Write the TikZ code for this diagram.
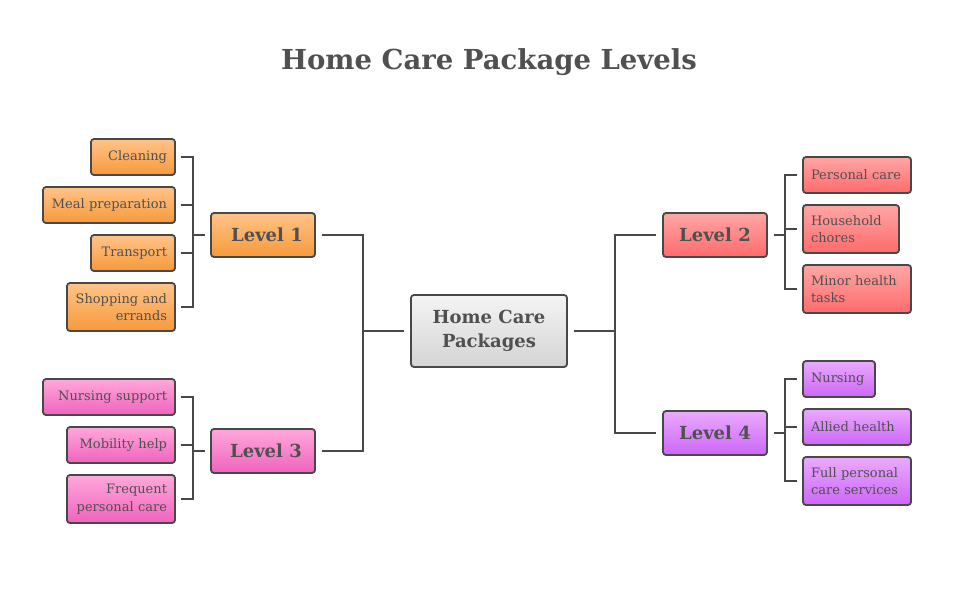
\documentclass[tikz,border=0pt]{standalone}
\usepackage{fontspec}
\setmainfont{DejaVu Serif}
\usetikzlibrary{positioning}
\definecolor{txt}{HTML}{505050}
\definecolor{edge}{HTML}{484848}
\definecolor{orT}{HTML}{FFC488}
\definecolor{orB}{HTML}{F7993B}
\definecolor{rdT}{HTML}{FFA6A6}
\definecolor{rdB}{HTML}{FF6A6A}
\definecolor{pkT}{HTML}{FFA8DA}
\definecolor{pkB}{HTML}{F062BE}
\definecolor{puT}{HTML}{EAAAFF}
\definecolor{puB}{HTML}{CC66F6}
\definecolor{gyT}{HTML}{F4F4F4}
\definecolor{gyB}{HTML}{D4D4D4}
\tikzset{
  box/.style={draw=edge, line width=1.8pt, rounded corners=3pt, inner sep=0pt, text=txt, anchor=center},
  leaf/.style={box, font=\fontsize{13}{17.5}\selectfont},
  lvl/.style={box, font=\fontsize{18}{22}\selectfont\bfseries},
  orange/.style={top color=orT, bottom color=orB},
  red/.style={top color=rdT, bottom color=rdB},
  pink/.style={top color=pkT, bottom color=pkB},
  purple/.style={top color=puT, bottom color=puB},
  gray/.style={top color=gyT, bottom color=gyB},
  conn/.style={draw=edge, line width=1.8pt},
}
% left leaf: right-aligned text; args: style,x1,y1,x2,y2,name,text
\newcommand{\lleaf}[7]{%
  \node[leaf,#1,minimum width={#4-#2}, minimum height={#5-#3}, text width={#4-#2-16}, align=right]
    (#6) at ({(#2+#4)/2},{(#3+#5)/2}) {#7};}
\newcommand{\rleaf}[7]{%
  \node[leaf,#1,minimum width={#4-#2}, minimum height={#5-#3}, text width={#4-#2-16}, align=left]
    (#6) at ({(#2+#4)/2},{(#3+#5)/2}) {#7};}
\begin{document}
\begin{tikzpicture}[x=1pt,y=-1pt]
\useasboundingbox[fill=white] (0,0) rectangle (980,600);
\node[text=txt, font=\fontsize{27.5}{32}\selectfont\bfseries] (title) at (489,62) {Home Care Package Levels};

% center
\node[box, gray, font=\fontsize{18}{24}\selectfont\bfseries, align=center, minimum width=156, minimum height=72] (hcp) at (489,331) {Home Care\\Packages};

% levels
\node[lvl, orange, minimum width=104, minimum height=44] (l1) at (263,235) {\hspace*{8pt}Level 1};
\node[lvl, pink, minimum width=104, minimum height=44] (l3) at (263,451) {\hspace*{6pt}Level 3};
\node[lvl, red, minimum width=104, minimum height=44] (l2) at (715,235) {Level 2};
\node[lvl, purple, minimum width=104, minimum height=44] (l4) at (715,433) {Level 4};

% level 1 leaves
\lleaf{orange}{91}{139}{175}{175}{a1}{Cleaning}
\lleaf{orange}{43}{187}{175}{223}{a2}{Meal preparation}
\lleaf{orange}{91}{235}{175}{271}{a3}{Transport}
\lleaf{orange}{67}{283}{175}{331}{a4}{Shopping and\\errands}
% level 3 leaves
\lleaf{pink}{43}{379}{175}{415}{c1}{Nursing support}
\lleaf{pink}{67}{427}{175}{463}{c2}{Mobility help}
\lleaf{pink}{67}{475}{175}{523}{c3}{Frequent\\personal care}
% level 2 leaves
\rleaf{red}{803}{157}{911}{193}{b1}{Personal care}
\rleaf{red}{803}{205}{899}{253}{b2}{Household\\chores}
\rleaf{red}{803}{265}{911}{313}{b3}{Minor health\\tasks}
% level 4 leaves
\rleaf{purple}{803}{361}{875}{397}{d1}{Nursing}
\rleaf{purple}{803}{409}{911}{445}{d2}{Allied health}
\rleaf{purple}{803}{457}{911}{505}{d3}{Full personal\\care services}

% main connectors
\coordinate (jl) at (363,331);
\coordinate (jr) at (615,331);
\draw[conn] ([xshift=-6pt]hcp.west) -- (jl);
\draw[conn] ([xshift=6pt]l1.east) -| (jl) |- ([xshift=6pt]l3.east);
\draw[conn] ([xshift=6pt]hcp.east) -- (jr);
\draw[conn] ([xshift=-6pt]l2.west) -| (jr) |- ([xshift=-6pt]l4.west);

% level 1 bracket
\draw[conn] ([xshift=5pt]a1.east) -| (193,0|-a4.east) -- ([xshift=5pt]a4.east);
\draw[conn] ([xshift=5pt]a2.east) -- (193,0|-a2.east);
\draw[conn] ([xshift=5pt]a3.east) -- (193,0|-a3.east);
\draw[conn] ([xshift=-5pt]l1.west) -- (193,0|-l1.west);
% level 3 bracket
\draw[conn] ([xshift=5pt]c1.east) -| (193,0|-c3.east) -- ([xshift=5pt]c3.east);
\draw[conn] ([xshift=5pt]c2.east) -- (193,0|-c2.east);
\draw[conn] ([xshift=-5pt]l3.west) -- (193,0|-l3.west);
% level 2 bracket
\draw[conn] ([xshift=-5pt]b1.west) -| (785,0|-b3.west) -- ([xshift=-5pt]b3.west);
\draw[conn] ([xshift=-5pt]b2.west) -- (785,0|-b2.west);
\draw[conn] ([xshift=6pt]l2.east) -- (785,0|-l2.east);
% level 4 bracket
\draw[conn] ([xshift=-5pt]d1.west) -| (785,0|-d3.west) -- ([xshift=-5pt]d3.west);
\draw[conn] ([xshift=-5pt]d2.west) -- (785,0|-d2.west);
\draw[conn] ([xshift=6pt]l4.east) -- (785,0|-l4.east);
\end{tikzpicture}
\end{document}
